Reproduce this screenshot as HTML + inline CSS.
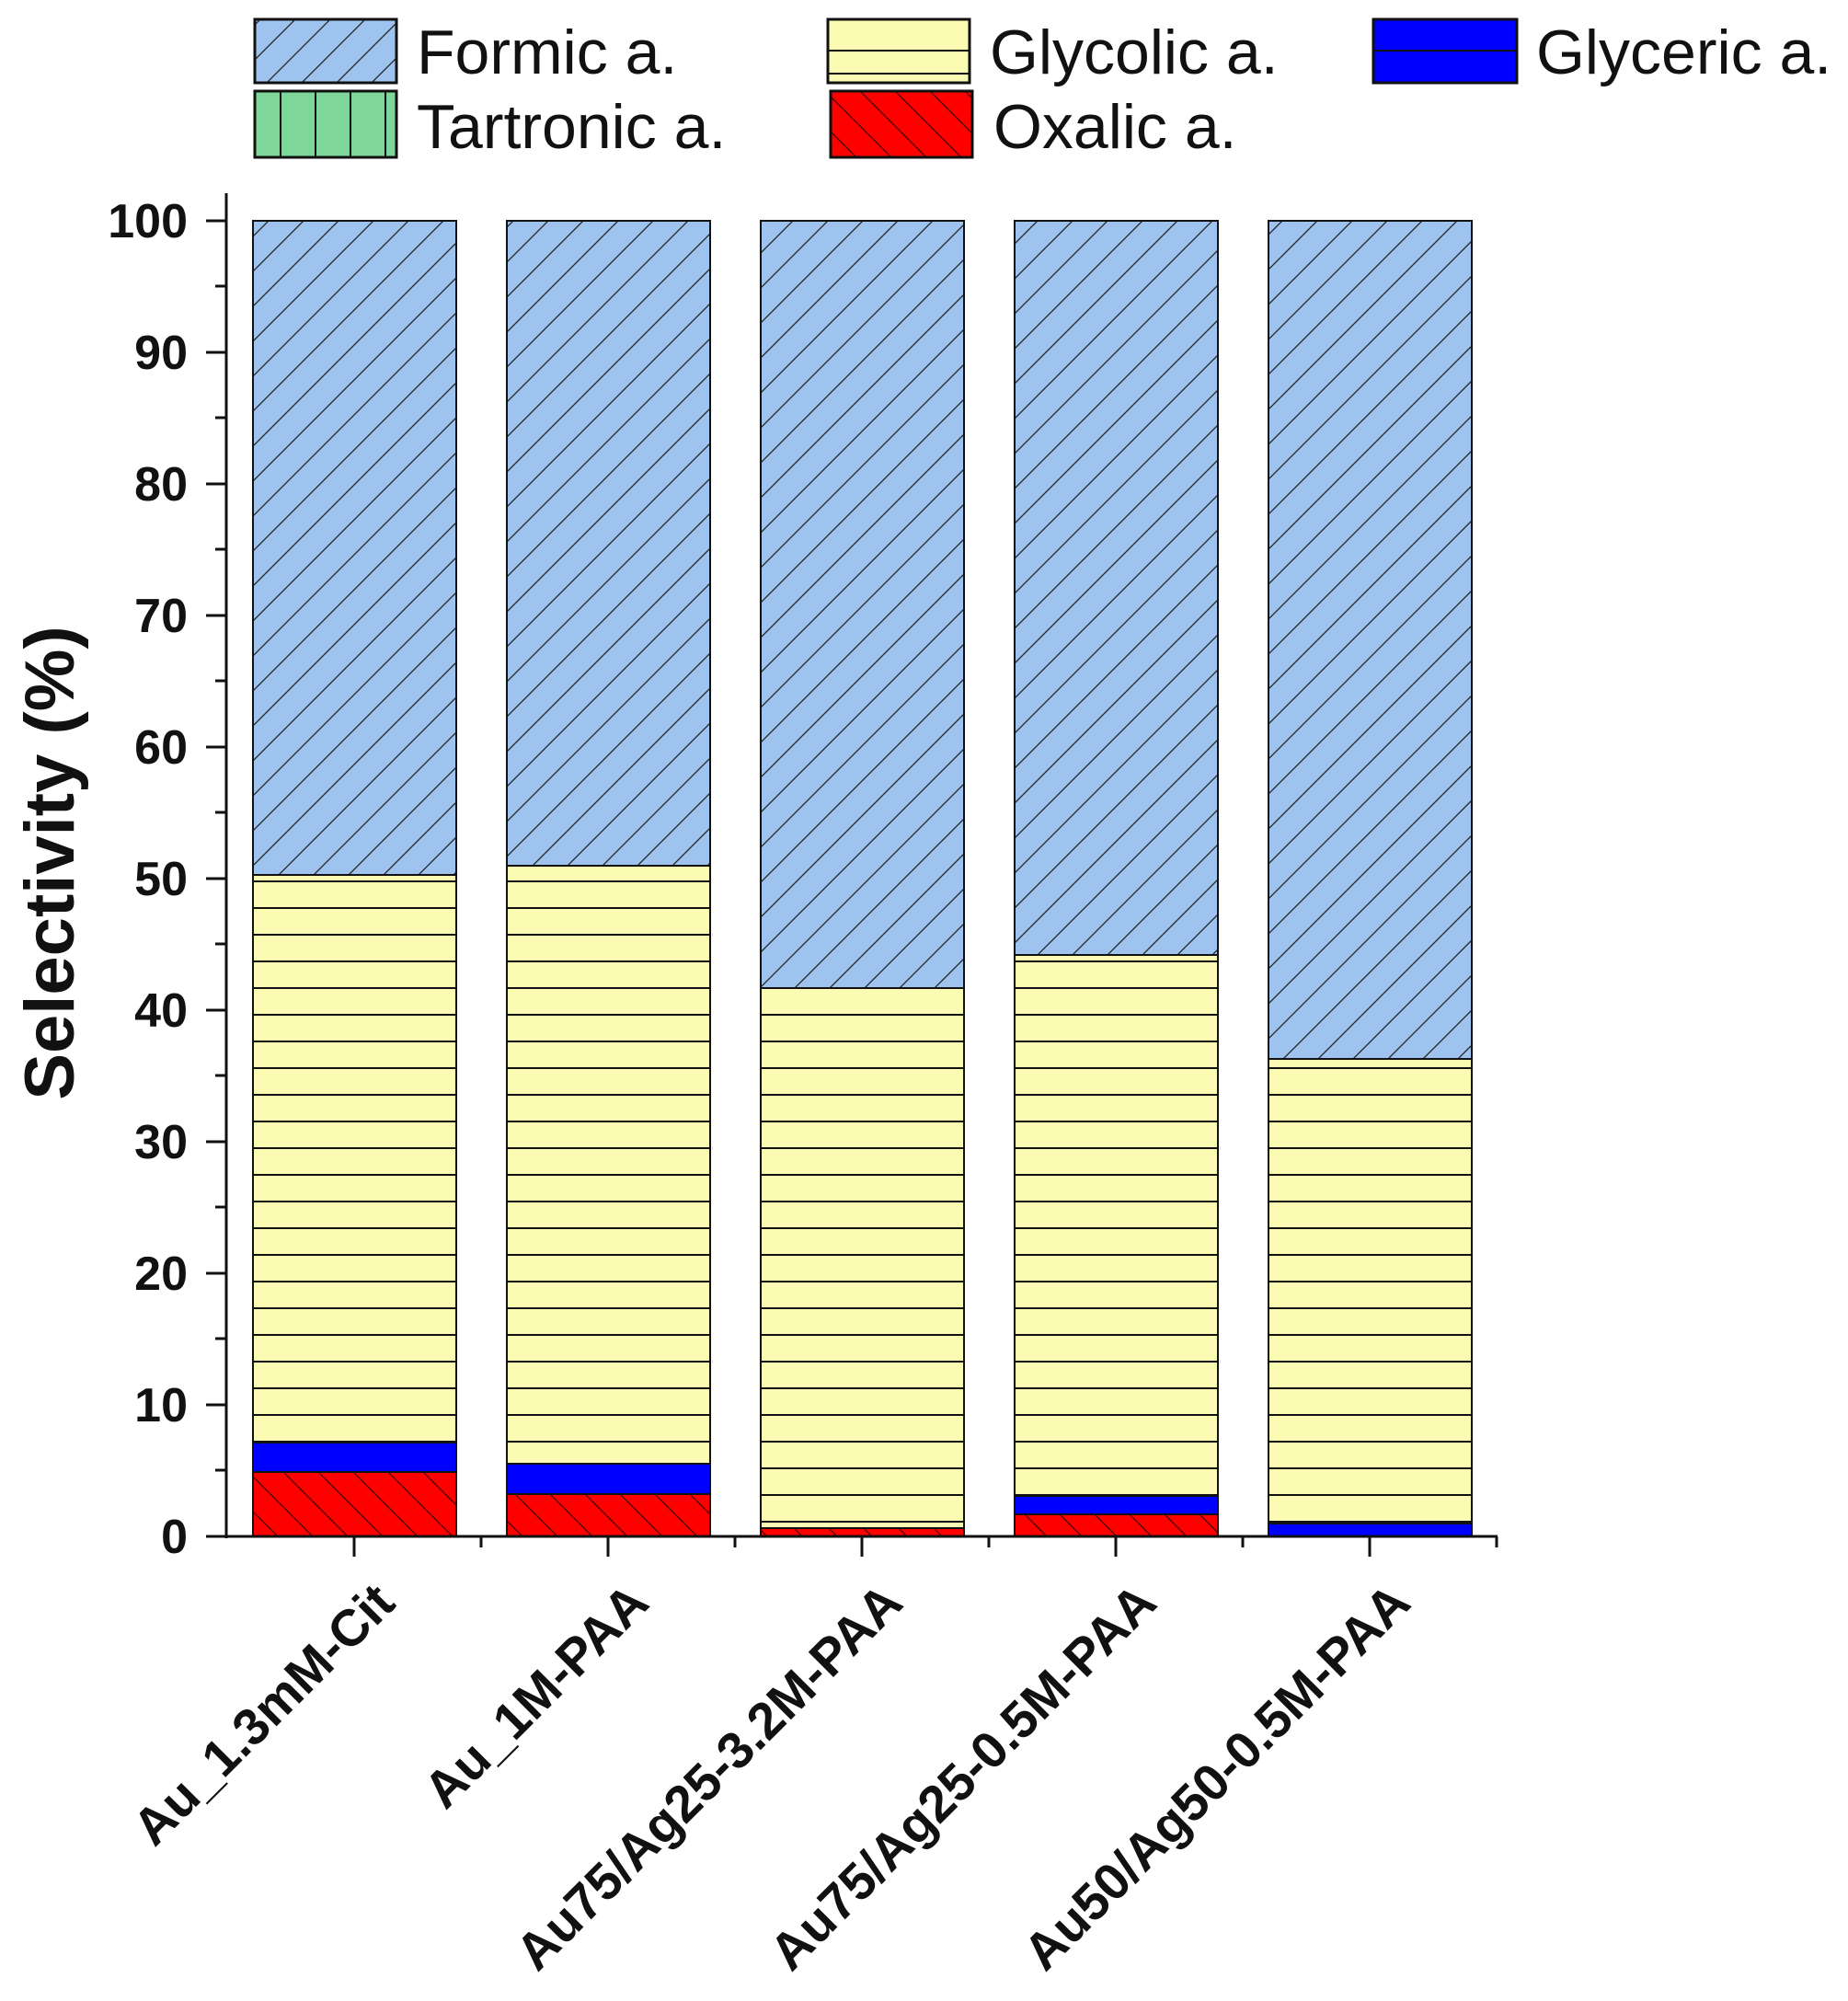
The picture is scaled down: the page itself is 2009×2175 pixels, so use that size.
<!DOCTYPE html>
<html><head><style>body{margin:0;background:#fff}</style></head><body>
<svg width="2009" height="2170" xmlns="http://www.w3.org/2000/svg" font-family="Liberation Sans, sans-serif">
<defs>
<pattern id="fo" width="38" height="38" patternUnits="userSpaceOnUse"><rect width="38" height="38" fill="#9dc3ee"/><path d="M-10 48 L48 -10 M-48 48 L10 -10 M28 48 L86 -10" stroke="#222" stroke-width="1.3"/></pattern>
<pattern id="gl" width="40" height="29" patternUnits="userSpaceOnUse"><rect width="40" height="29" fill="#fcfbb4"/><path d="M0 1 H40" stroke="#111" stroke-width="2"/></pattern>
<pattern id="ox" width="38" height="38" patternUnits="userSpaceOnUse"><rect width="38" height="38" fill="#ff0000"/><path d="M-10 -10 L48 48 M-48 -10 L10 48 M28 -10 L86 48" stroke="#400" stroke-width="1.3"/></pattern>
<pattern id="ta" width="38" height="60" patternUnits="userSpaceOnUse"><rect width="38" height="60" fill="#7fd69a"/><path d="M1 0 V60" stroke="#111" stroke-width="2"/></pattern>
</defs>
<g stroke="#111" stroke-width="3">
<rect x="277" y="21" width="154" height="69" fill="url(#fo)"/>
<rect x="277" y="99" width="154" height="72" fill="url(#ta)"/>
<rect x="900" y="21" width="154" height="69" fill="#fcfbb4"/>
<rect x="903" y="99" width="154" height="72" fill="url(#ox)"/>
<rect x="1493" y="21" width="156" height="69" fill="#0000ff"/>
</g>
<path d="M900 55 H1054 M900 80 H1054 M1493 55 H1649" stroke="#111" stroke-width="2"/>
<g font-size="68" fill="#111">
<text x="453" y="80">Formic a.</text>
<text x="453" y="161">Tartronic a.</text>
<text x="1076" y="80">Glycolic a.</text>
<text x="1080" y="161">Oxalic a.</text>
<text x="1670" y="80">Glyceric a.</text>
</g>
<g stroke="#111" stroke-width="2">
<rect x="275" y="240" width="221" height="1430" fill="url(#fo)"/>
<rect x="275" y="951" width="221" height="618" fill="url(#gl)"/>
<rect x="275" y="1568" width="221" height="32" fill="#0000ff"/>
<rect x="275" y="1600" width="221" height="70" fill="url(#ox)"/>

<rect x="551" y="240" width="221" height="1430" fill="url(#fo)"/>
<rect x="551" y="941" width="221" height="651" fill="url(#gl)"/>
<rect x="551" y="1591" width="221" height="33" fill="#0000ff"/>
<rect x="551" y="1624" width="221" height="46" fill="url(#ox)"/>

<rect x="827" y="240" width="221" height="1430" fill="url(#fo)"/>
<rect x="827" y="1074" width="221" height="587" fill="url(#gl)"/>
<rect x="827" y="1661" width="221" height="9" fill="url(#ox)"/>

<rect x="1103" y="240" width="221" height="1430" fill="url(#fo)"/>
<rect x="1103" y="1038" width="221" height="588" fill="url(#gl)"/>
<rect x="1103" y="1626" width="221" height="20" fill="#0000ff"/>
<rect x="1103" y="1646" width="221" height="24" fill="url(#ox)"/>

<rect x="1379" y="240" width="221" height="1430" fill="url(#fo)"/>
<rect x="1379" y="1151" width="221" height="505" fill="url(#gl)"/>
<rect x="1379" y="1656" width="221" height="14" fill="#0000ff"/>
</g>
<g stroke="#111" stroke-width="3">
<path d="M246 210 V1672 M244 1670 H1628"/>
<path d="M224 240 H246 M224 383 H246 M224 526 H246 M224 669 H246 M224 812 H246 M224 955 H246 M224 1098 H246 M224 1241 H246 M224 1384 H246 M224 1527 H246 M224 1670 H246"/>
<path d="M234 311 H246 M234 454 H246 M234 597 H246 M234 740 H246 M234 883 H246 M234 1026 H246 M234 1169 H246 M234 1312 H246 M234 1455 H246 M234 1598 H246"/>
<path d="M385 1670 V1692 M661 1670 V1692 M937 1670 V1692 M1213 1670 V1692 M1489 1670 V1692"/>
<path d="M523 1670 V1682 M799 1670 V1682 M1075 1670 V1682 M1351 1670 V1682 M1627 1670 V1682"/>
</g>
<g font-size="52" font-weight="bold" text-anchor="end" fill="#111">
<text x="204" y="258">100</text><text x="204" y="401">90</text><text x="204" y="544">80</text><text x="204" y="687">70</text><text x="204" y="830">60</text><text x="204" y="973">50</text><text x="204" y="1116">40</text><text x="204" y="1259">30</text><text x="204" y="1402">20</text><text x="204" y="1545">10</text><text x="204" y="1688">0</text>
</g>
<text transform="translate(80,938) rotate(-90)" font-size="76" font-weight="bold" text-anchor="middle" fill="#111">Selectivity (%)</text>
<g font-size="56" font-weight="bold" text-anchor="end" fill="#111">
<text transform="translate(432,1745) rotate(-45)">Au_1.3mM-Cit</text>
<text transform="translate(708,1745) rotate(-45)">Au_1M-PAA</text>
<text transform="translate(984,1745) rotate(-45)">Au75/Ag25-3.2M-PAA</text>
<text transform="translate(1260,1745) rotate(-45)">Au75/Ag25-0.5M-PAA</text>
<text transform="translate(1536,1745) rotate(-45)">Au50/Ag50-0.5M-PAA</text>
</g>
</svg>
</body></html>
